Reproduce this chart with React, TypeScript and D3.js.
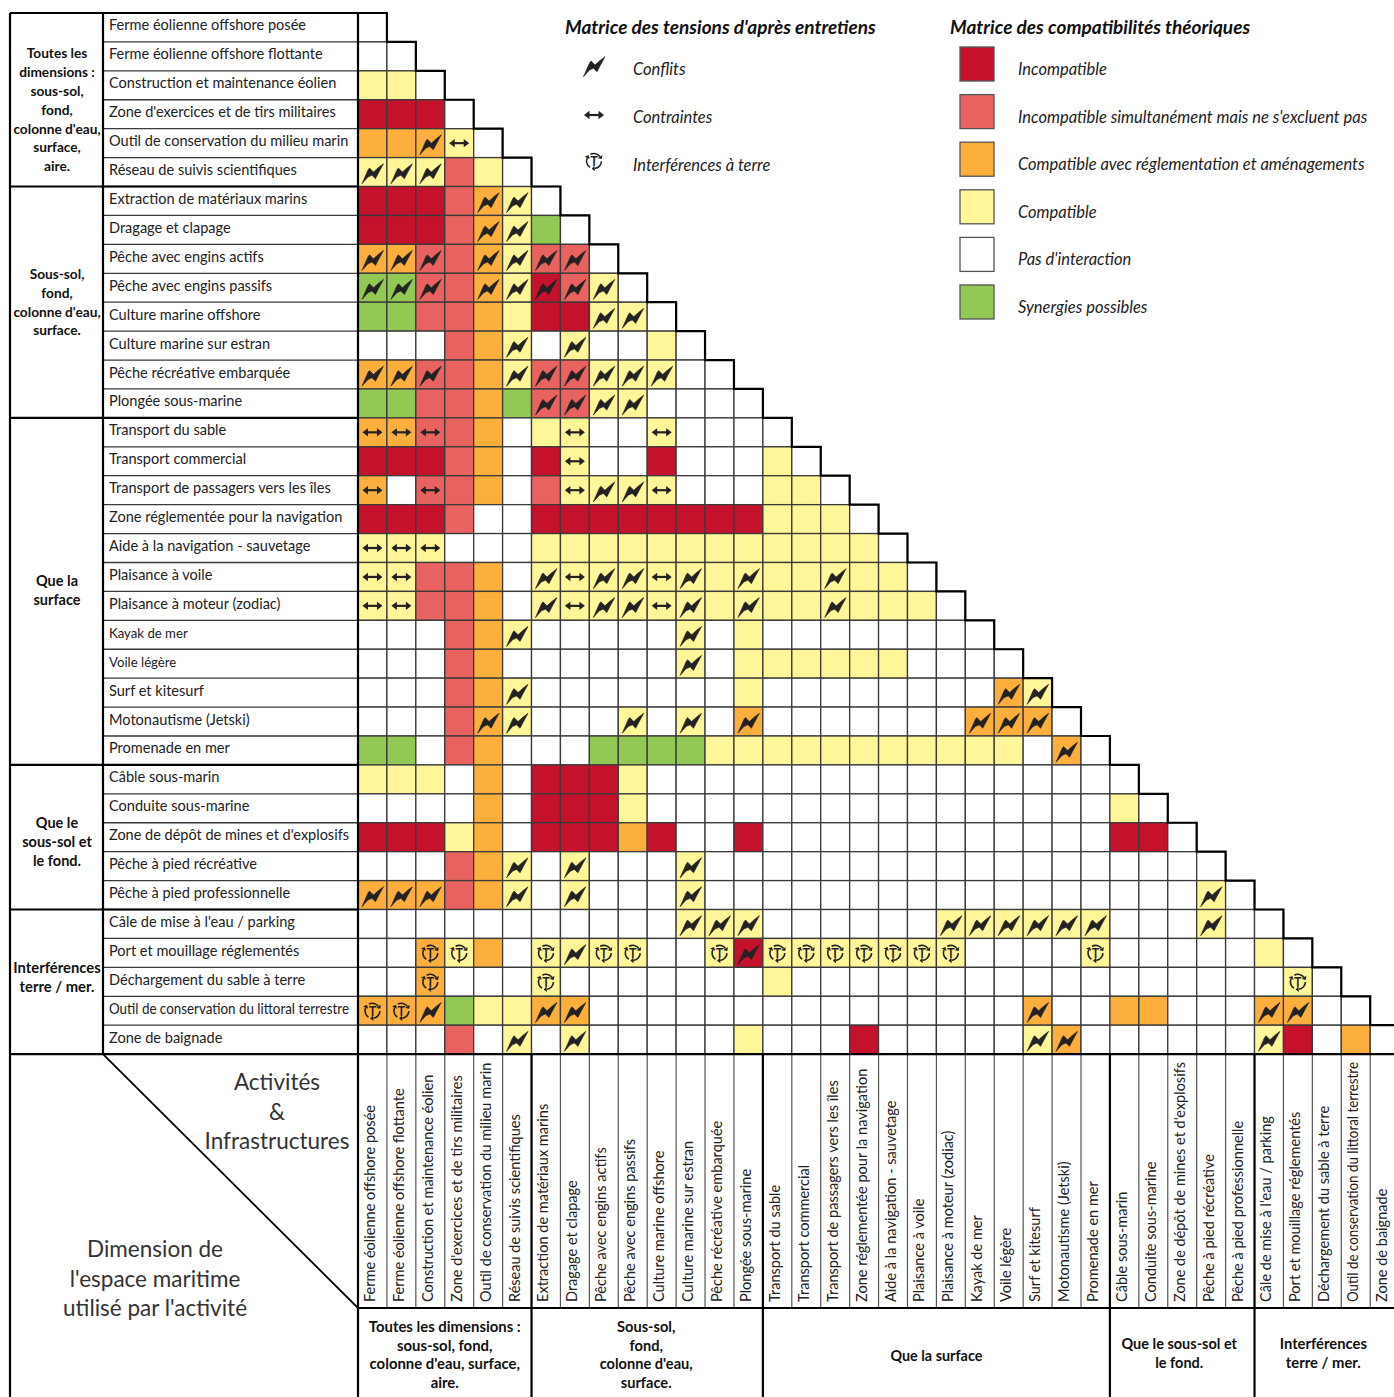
import React, { useRef, useEffect } from 'react';
import * as d3 from 'd3';

const activities = [
  "Ferme éolienne offshore posée", "Ferme éolienne offshore flottante", "Construction et maintenance éolien",
  "Zone d'exercices et de tirs militaires", "Outil de conservation du milieu marin", "Réseau de suivis scientifiques",
  "Extraction de matériaux marins", "Dragage et clapage", "Pêche avec engins actifs", "Pêche avec engins passifs",
  "Culture marine offshore", "Culture marine sur estran", "Pêche récréative embarquée", "Plongée sous-marine",
  "Transport du sable", "Transport commercial", "Transport de passagers vers les îles",
  "Zone réglementée pour la navigation", "Aide à la navigation - sauvetage", "Plaisance à voile",
  "Plaisance à moteur (zodiac)", "Kayak de mer", "Voile légère", "Surf et kitesurf", "Motonautisme (Jetski)",
  "Promenade en mer", "Câble sous-marin", "Conduite sous-marine", "Zone de dépôt de mines et d'explosifs",
  "Pêche à pied récréative", "Pêche à pied professionnelle", "Câle de mise à l'eau / parking",
  "Port et mouillage réglementés", "Déchargement du sable à terre", "Outil de conservation du littoral terrestre",
  "Zone de baignade",
];
const smallLabels = ["Kayak de mer", "Voile légère"];

// R incompatible, S incompatible simultanément, O réglementation, Y compatible, W rien, G synergies
const compatRows = [
  "W",
  "WW",
  "YYW",
  "RRRW",
  "OOOYW",
  "YYYSYW",
  "RRRSOYW",
  "RRRSOYGW",
  "OOSSOYSSW",
  "GGSSOYRSYW",
  "GGSSOYRRYYW",
  "WWWSOYWYWWYW",
  "OOSSOYSSYYYWW",
  "GGSSOGSSYYWWWW",
  "OOSSOWYYWWYWWWW",
  "RRRSOWRYWWRWWWYW",
  "OWSSOWSYYYYWWWYYW",
  "RRRSWW RRRRRRRR YYY W",
  "YYYWWW YYYYYYYY YYYY W",
  "YYSSOW YYYYYYYY YYYYY W",
  "YYSSOW YYYYYYYY YYYYYY W",
  "WWWSOY WWWWW Y W Y WWWWWWWW",
  "WWWSOW WWWWW Y W Y YYYYY WWWW",
  "WWWSOY WWWWWWW Y WWWWWWWW O Y",
  "WWWSOY WWW Y W Y W O WWWWWWW OOO W",
  "GGWSO WWW GGGG YY YYYYYYYYY W O W",
  "YYYWOW RRR Y WWWWWWWWWWWWWWWWW",
  "WWWWOW RRR Y WWWWWWWWWWWWWWWW Y W",
  "RRRYOW RRR O R WW R WWWWWWWWWWWW RR W",
  "WWWSOY W Y WWW Y WWWWWWWWWWWWWWWWWW",
  "OOOSOY W Y WWW Y WWWWWWWWWWWWWWWWW Y W",
  "WWWWWWWWWWW YYY WWWWWW YYYYYY WWW Y WW",
  "WWOYOW YYYY WW Y R YYYYYYY WWWW Y WWWWW Y W",
  "WWOWWW Y WWWWWWW Y WWWWWWWWWWWWWWWWW Y W",
  "OOOGYY OO WWWWWWWWWWWWWWW O WW OO WWW OO WW",
  "WWWSWY W Y WWWWW Y WWW R WWWWW Y O WWWWWW Y R W O W",
];

// c conflit, a contrainte, t interférence à terre
const tensionRows = [
  "",
  "",
  "",
  "",
  "..ca",
  "ccc",
  "....cc",
  "....cc",
  "ccc.cccc",
  "ccc.ccccc",
  "........cc",
  ".....c.c",
  "ccc..cccccc",
  "......cccc",
  "aaa....a..a",
  ".......a",
  "a.a....acca",
  "",
  "aaa",
  "aa....caccac.c..c",
  "aa....caccac.c..c",
  ".....c.....c",
  "...........c",
  ".....c ................ cc",
  "....cc...c.c.c ....... ccc",
  "........................ c",
  "",
  "",
  "",
  ".....c.c...c",
  "ccc..c.c...c ................. c",
  "...........ccc ...... cccccc ... c",
  "..tt..tctt..tc ttttttt .... t",
  "..t...t ......................... t",
  "ttc...cc ............... c ....... cc",
  ".....c.c ............... cc ...... c",
];

const groupSizes = [6, 8, 12, 5, 5];
const leftGroups = [
  ["Toutes les", "dimensions :", "sous-sol,", "fond,", "colonne d'eau,", "surface,", "aire."],
  ["Sous-sol,", "fond,", "colonne d'eau,", "surface."],
  ["Que la", "surface"],
  ["Que le", "sous-sol et", "le fond."],
  ["Interférences", "terre / mer."],
];
const bottomGroups = [
  ["Toutes les dimensions :", "sous-sol, fond,", "colonne d'eau, surface,", "aire."],
  ["Sous-sol,", "fond,", "colonne d'eau,", "surface."],
  ["Que la surface"],
  ["Que le sous-sol et", "le fond."],
  ["Interférences", "terre / mer."],
];
const compatLegend = [
  ["R", "Incompatible"],
  ["S", "Incompatible simultanément mais ne s'excluent pas"],
  ["O", "Compatible avec réglementation et aménagements"],
  ["Y", "Compatible"],
  ["W", "Pas d'interaction"],
  ["G", "Synergies possibles"],
];
const tensionLegend = [["c", "Conflits"], ["a", "Contraintes"], ["t", "Interférences à terre"]];
const cornerTop = ["Activités", "&", "Infrastructures"];
const cornerBottom = ["Dimension de", "l'espace maritime", "utilisé par l'activité"];

const colors = { R: "#C4122D", S: "#E8635F", O: "#FDAF3E", Y: "#FFF599", W: "#FFFFFF", G: "#92C955" };
const FONT = "Lato, 'Open Sans', sans-serif";
const INK = "#222";

const W = 1394, H = 1397;
const x0 = 358, y0 = 13, cell = 28.92;
const tableLeft = 10, labelLeft = 103;
const gridBottom = y0 + cell * 36, headBottom = 1308;
// décalages et tailles des libellés de groupe, réglés à l'oeil
const leftOffset = [10, 0, -1, 5, -4];
const leftSize = [13.7, 13.7, 14.5, 14.5, 14.8];
const bottomDy = [-1, -1, 0, -2.5, -2.5];
const bottomDx = [0, -1, 0, -3, -3.5];
const bottomSize = [14.9, 14.6, 14.4, 14.5, 14.8];

const drawBolt = (g) => {
  g.append("path")
    .attr("d", "M-10.5 11.7L-4.5-2L-3-4L1 0L6-4.5L11-8.3L6 1L3 6.7L-.5 3.3L-4.5 5Z")
    .attr("fill", INK).attr("stroke", INK).attr("stroke-width", 0.6);
};
const drawArrow = (g) => {
  g.append("path").attr("d", "M-6 0H6").attr("stroke", INK).attr("stroke-width", 2.2);
  g.append("path").attr("d", "M-10 0L-4.5-4.2V4.2ZM10 0L4.5-4.2V4.2Z").attr("fill", INK);
};
const drawTerre = (g) => {
  const arc = d3.arc().innerRadius(6.7).outerRadius(8.3);
  [[-0.5, 0.95], [1.6, 3.05], [3.7, 5.15]].forEach(([a, b]) => {
    g.append("path").attr("d", arc({ startAngle: a, endAngle: b })).attr("fill", INK);
    g.append("path").attr("d", "M0-10.3L3-7.5L0-4.7Z").attr("fill", INK)
      .attr("transform", `rotate(${(b * 180) / Math.PI})`);
  });
  g.append("text").attr("y", 4.8).attr("text-anchor", "middle").attr("font-size", 13.5)
    .attr("font-family", "'Open Sans', sans-serif").attr("font-weight", 600).attr("fill", INK).text("T");
};
const symbols = { c: drawBolt, a: drawArrow, t: drawTerre };

const App = () => {
  const svgRef = useRef();

  useEffect(() => {
    const svg = d3.select(svgRef.current);
    svg.selectAll("*").remove();

    const band = d3.scaleBand().domain(d3.range(36)).range([0, cell * 36]);
    const x = (i) => x0 + band(i);
    const y = (i) => y0 + band(i);
    const compat = compatRows.map((r) => r.replace(/ /g, ""));
    const tension = tensionRows.map((r) => r.replace(/ /g, ""));

    // cellules
    const cells = compat.flatMap((row, r) => row.split("").map((c, k) => ({ r, k, c, s: tension[r][k] })));
    svg.append("g").selectAll("rect").data(cells).enter().append("rect")
      .attr("x", (d) => x(d.k)).attr("y", (d) => y(d.r))
      .attr("width", cell).attr("height", cell)
      .attr("fill", (d) => colors[d.c])
      .attr("stroke", "#3a3a3a").attr("stroke-width", 1.3);

    cells.filter((d) => symbols[d.s]).forEach((d) => {
      const g = svg.append("g").attr("transform", `translate(${x(d.k) + cell / 2},${y(d.r) + cell / 2})`);
      symbols[d.s](g);
    });

    // escalier
    const stairs = [];
    d3.range(36).forEach((i) => {
      stairs.push([x(i), y(i)], [x(i) + cell, y(i)], [x(i) + cell, y(i) + cell]);
    });
    svg.append("path").attr("d", d3.line()(stairs)).attr("fill", "none").attr("stroke", "#000").attr("stroke-width", 2.2);

    // colonne des libellés
    const fitLabel = function () {
      if (this.getComputedTextLength() > 240) d3.select(this).attr("textLength", 240).attr("lengthAdjust", "spacingAndGlyphs");
    };
    const labels = svg.append("g");
    labels.selectAll("line").data(d3.range(37)).enter().append("line")
      .attr("x1", labelLeft).attr("x2", x0).attr("y1", (d) => y0 + cell * d).attr("y2", (d) => y0 + cell * d)
      .attr("stroke", "#3a3a3a").attr("stroke-width", 1.3);
    labels.selectAll("text").data(activities).enter().append("text")
      .attr("x", 109).attr("y", (d, i) => y(i) + cell / 2 + 3)
      .attr("font-family", FONT).attr("font-size", (d) => (smallLabels.includes(d) ? 13.2 : 14.55))
      .attr("fill", INK).text((d) => d)
      .each(fitLabel);

    // libellés verticaux
    const xLabels = svg.append("g");
    xLabels.selectAll("line").data(d3.range(1, 36)).enter().append("line")
      .attr("x1", (d) => x0 + cell * d).attr("x2", (d) => x0 + cell * d)
      .attr("y1", gridBottom).attr("y2", headBottom)
      .attr("stroke", "#555").attr("stroke-width", 1.2);
    xLabels.selectAll("text").data(activities).enter().append("text")
      .attr("transform", (d, i) => `translate(${x(i) + cell / 2 + 2.5},${headBottom - 6}) rotate(-90)`)
      .attr("font-family", FONT).attr("font-size", 14.55).attr("fill", INK).text((d) => d)
      .each(fitLabel);

    // traits épais
    const heavy = (x1, y1, x2, y2, w = 2.2) => svg.append("line").attr("x1", x1).attr("y1", y1).attr("x2", x2).attr("y2", y2)
      .attr("stroke", "#000").attr("stroke-width", w);
    heavy(tableLeft, y0, x0, y0);
    heavy(tableLeft, y0, tableLeft, H);
    heavy(labelLeft, y0, labelLeft, gridBottom);
    heavy(x0, y0, x0, H);
    heavy(tableLeft, gridBottom, W, gridBottom);
    heavy(x0, headBottom, W, headBottom);
    heavy(labelLeft, gridBottom, x0, headBottom, 1.8);

    let from = 0;
    groupSizes.forEach((n, i) => {
      const to = from + n;
      if (i < groupSizes.length - 1) {
        heavy(tableLeft, y0 + cell * to, x0, y0 + cell * to);
        heavy(x0 + cell * to, gridBottom, x0 + cell * to, H);
      }
      const midY = y0 + cell * (from + n / 2) + leftOffset[i];
      const lines = leftGroups[i];
      svg.append("g").selectAll("text").data(lines).enter().append("text")
        .attr("x", 57).attr("y", (d, k) => midY + (k - (lines.length - 1) / 2) * 18.8 + 5)
        .attr("text-anchor", "middle").attr("font-family", FONT).attr("font-weight", 700).attr("font-size", leftSize[i])
        .attr("fill", "#111").text((d) => d);
      const cx = x0 + cell * (from + n / 2) + bottomDx[i];
      const blines = bottomGroups[i];
      svg.append("g").selectAll("text").data(blines).enter().append("text")
        .attr("x", cx).attr("y", (d, k) => 1356 + bottomDy[i] + (k - (blines.length - 1) / 2) * 18.8 + 5)
        .attr("text-anchor", "middle").attr("font-family", FONT).attr("font-weight", 700).attr("font-size", bottomSize[i])
        .attr("fill", "#111").text((d) => d);
      from = to;
    });

    // coin bas gauche
    svg.append("g").selectAll("text").data(cornerTop).enter().append("text")
      .attr("x", 277).attr("y", (d, i) => 1090 + i * 29.5)
      .attr("text-anchor", "middle").attr("font-family", FONT).attr("font-size", 22.5).attr("fill", "#333").text((d) => d);
    svg.append("g").selectAll("text").data(cornerBottom).enter().append("text")
      .attr("x", 155).attr("y", (d, i) => 1257 + i * 29.5)
      .attr("text-anchor", "middle").attr("font-family", FONT).attr("font-size", 22.5).attr("fill", "#333").text((d) => d);

    // légendes
    const title = (txt, tx) => svg.append("text").attr("x", tx).attr("y", 34)
      .attr("font-family", FONT).attr("font-weight", 700).attr("font-style", "italic").attr("font-size", 19.05).attr("fill", "#111").text(txt);
    title("Matrice des tensions d'après entretiens", 565);
    title("Matrice des compatibilités théoriques", 950);

    const legY = d3.scaleLinear().domain([0, 1]).range([68, 116]);
    tensionLegend.forEach(([k, txt], i) => {
      const g = svg.append("g").attr("transform", `translate(594,${legY(i) - (k === "a" ? 1 : 3)})`);
      symbols[k](g);
      svg.append("text").attr("x", 633).attr("y", legY(i) + 7).attr("font-family", FONT).attr("font-style", "italic")
        .attr("font-size", 16.5).attr("fill", INK).text(txt);
    });
    const boxY = d3.scaleLinear().domain([0, 5]).range([47, 285]);
    compatLegend.forEach(([k, txt], i) => {
      svg.append("rect").attr("x", 960).attr("y", boxY(i)).attr("width", 34).attr("height", 34)
        .attr("fill", colors[k]).attr("stroke", "#555").attr("stroke-width", 1.3);
      svg.append("text").attr("x", 1018).attr("y", boxY(i) + 28).attr("font-family", FONT).attr("font-style", "italic")
        .attr("font-size", 16.5).attr("fill", INK).text(txt);
    });
  }, []);

  return <svg ref={svgRef} width={W} height={H} style={{ position: 'absolute', left: 0, top: 0, display: 'block', background: '#fff' }} />;
};

export default App;
